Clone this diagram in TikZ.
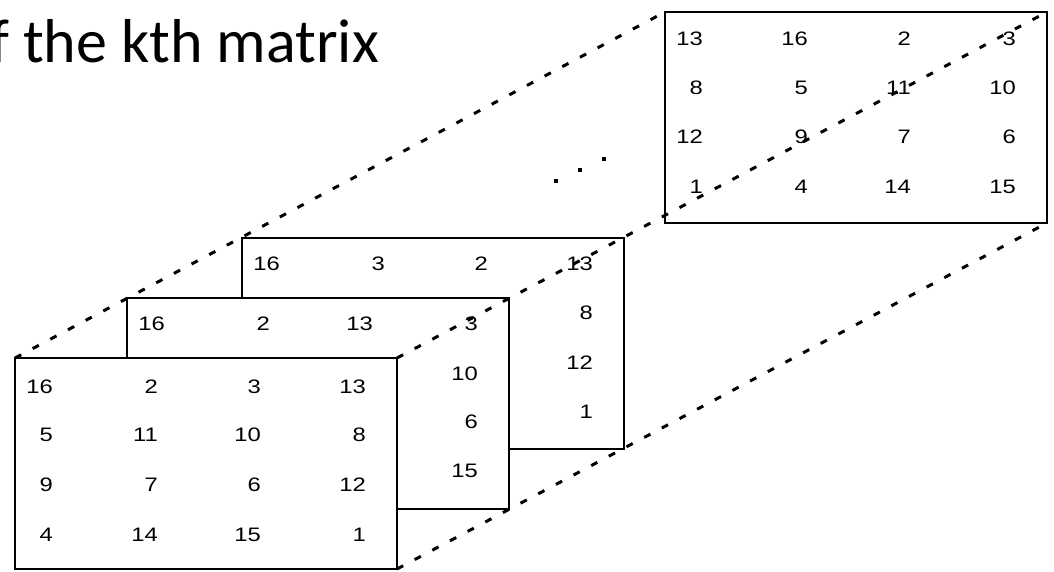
\documentclass[tikz,border=0pt]{standalone}
\usepackage{fontspec}
\setmainfont{Carlito}
\newfontfamily\numfont{Liberation Sans}
\usetikzlibrary{calc}
\newcommand\nm[1]{\scalebox{1.22}[1]{#1}}
\tikzset{
  box/.style={draw, line width=2pt, fill=white, anchor=north west, minimum width=382pt, minimum height=211pt, inner sep=0pt, outer sep=0pt},
  num/.style={anchor=east, inner sep=0pt, font=\numfont\fontsize{19.5}{19.5}\selectfont},
  guide/.style={line width=3pt, dash pattern=on 7pt off 13pt},
  dotmark/.style={fill=black, minimum size=4pt, inner sep=0pt, draw=none, rectangle},
  title/.style={anchor=base east, inner sep=0pt, font=\fontsize{62}{62}\selectfont}
}
\newcommand\entry[4]{\node[num] at ($(#1.north west)+(#2,#3)$) {\nm{#4}};}
\begin{document}
\begin{tikzpicture}[x=1pt,y=-1pt]
\useasboundingbox (0,0) rectangle (1054,572);
\node[title] (t) at (379,63) {f the kth matrix};
% top matrix
\node[box] (D) at (665,12) {};
\entry{D}{38}{27}{13}\entry{D}{143}{27}{16}\entry{D}{246}{27}{2}\entry{D}{351}{27}{3}
\entry{D}{38}{76}{8}\entry{D}{143}{76}{5}\entry{D}{246}{76}{11}\entry{D}{351}{76}{10}
\entry{D}{38}{125}{12}\entry{D}{143}{125}{9}\entry{D}{246}{125}{7}\entry{D}{351}{125}{6}
\entry{D}{38}{175}{1}\entry{D}{143}{175}{4}\entry{D}{246}{175}{14}\entry{D}{351}{175}{15}
% third matrix
\node[box] (C) at (242,238) {};
\entry{C}{38}{26}{16}\entry{C}{143}{26}{3}\entry{C}{246}{26}{2}\entry{C}{351}{26}{13}
\entry{C}{351}{75}{8}\entry{C}{351}{125}{12}\entry{C}{351}{174}{1}
% second matrix
\node[box] (B) at (127,298) {};
\entry{B}{38}{26}{16}\entry{B}{143}{26}{2}\entry{B}{246}{26}{13}\entry{B}{351}{26}{3}
\entry{B}{351}{76}{10}\entry{B}{351}{124}{6}\entry{B}{351}{173}{15}
% front matrix
\node[box] (A) at (15,358) {};
\entry{A}{38}{29}{16}\entry{A}{143}{29}{2}\entry{A}{246}{29}{3}\entry{A}{351}{29}{13}
\entry{A}{38}{77}{5}\entry{A}{143}{77}{11}\entry{A}{246}{77}{10}\entry{A}{351}{77}{8}
\entry{A}{38}{127}{9}\entry{A}{143}{127}{7}\entry{A}{246}{127}{6}\entry{A}{351}{127}{12}
\entry{A}{38}{177}{4}\entry{A}{143}{177}{14}\entry{A}{246}{177}{15}\entry{A}{351}{177}{1}
% guide lines
\draw[guide] (A.north west) -- (D.north west);
\draw[guide] (A.north east) -- (D.north east);
\draw[guide] (A.south east) -- (D.south east);
% dots
\node[dotmark] (d1) at (556,181) {};
\node[dotmark] (d2) at (580,170) {};
\node[dotmark] (d3) at (604,159) {};
\end{tikzpicture}
\end{document}
